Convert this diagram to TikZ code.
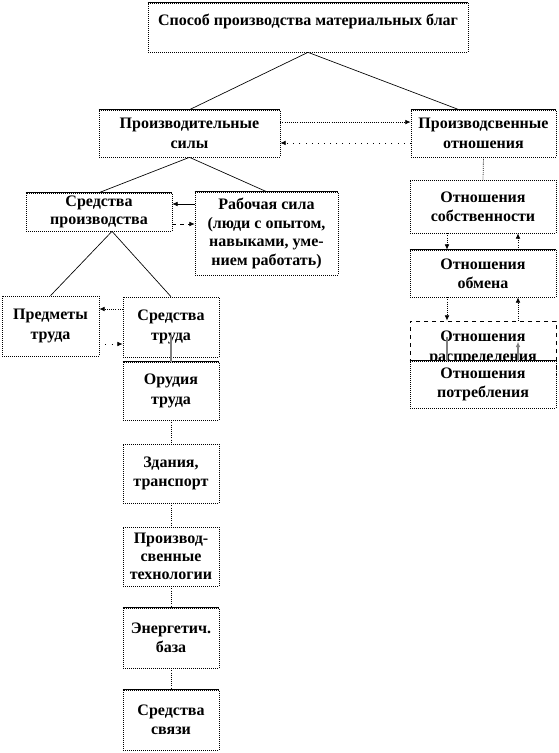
\documentclass[tikz,border=0pt]{standalone}
\usepackage{fontspec}
\setmainfont{Liberation Serif}
\usetikzlibrary{positioning, arrows.meta}

\begin{document}
\begin{tikzpicture}[
    >={Latex[length=4pt,width=3.5pt]},
    x=0.75pt, y=-0.75pt,
    box/.style={draw, densely dotted, line width=0.5pt, fill=white, align=center, inner sep=1pt,
        font=\bfseries\fontsize{12}{14.5}\selectfont},
    link/.style={line width=0.5pt},
    dotlink/.style={line width=0.6pt, densely dotted},
    backlink/.style={line width=0.6pt, loosely dotted},
    hidden/.style={gray, line width=1pt}
]

\useasboundingbox (0,0) rectangle (558,753);

% Top level
\node[box, minimum width=240pt, minimum height=36.75pt, text depth=11pt] (top) at (308,27.5) {Способ производства материальных благ};

% Second level
\node[box, minimum width=135.75pt, minimum height=35.25pt] (sily) at (189.5,133.5) {Производительные\\силы};
\node[box, minimum width=108.75pt, minimum height=35.25pt] (otn) at (483.5,133.5) {Производсвенные\\отношения};

% Productive forces
\node[box, minimum width=109.5pt, minimum height=28.5pt, font=\bfseries\fontsize{12}{13.5}\selectfont] (sredpr) at (99,212) {Средства\\производства};
\node[box, minimum width=107.25pt, minimum height=62.25pt, font=\bfseries\fontsize{12}{14}\selectfont] (rab) at (266.5,233.5) {Рабочая сила\\(люди с опытом,\\навыками, уме-\\нием работать)};
\node[box, minimum width=72.75pt, minimum height=45pt] (predm) at (50.5,326) {Предметы\\труда};
\node[box, minimum width=72pt, minimum height=45pt] (sredtr) at (171,327) {Средства\\труда};

% Means of labour column
\node[box, minimum width=72pt, minimum height=43.5pt] (orud) at (171,391) {Орудия\\труда};
\node[box, minimum width=72pt, minimum height=44.25pt] (zdan) at (171,473.5) {Здания,\\транспорт};
\node[box, minimum width=72pt, minimum height=44.25pt, font=\bfseries\fontsize{12}{13.5}\selectfont] (tech) at (171,556.5) {Производ-\\свенные\\технологии};
\node[box, minimum width=72pt, minimum height=45pt] (energ) at (171,638) {Энергетич.\\база};
\node[box, minimum width=72pt, minimum height=45pt] (svyaz) at (171,720) {Средства\\связи};

% Relations column
\node[box, minimum width=109.5pt, minimum height=39.75pt] (sobst) at (483,206.5) {Отношения\\собственности};
\node[box, minimum width=109.5pt, minimum height=35.25pt] (obmen) at (483,273.5) {Отношения\\обмена};
\node[box, dashed, minimum width=109.5pt, minimum height=40.5pt] (raspr) at (483,348) {Отношения\\распределения};
\node[box, minimum width=109.5pt, minimum height=35.25pt] (potreb) at (483,384.5) {Отношения\\потребления};

% solid upper edges
\foreach \n in {top, sily, otn, sredpr, rab, orud, energ, svyaz, obmen, potreb}
    \draw[line width=0.5pt] (\n.north west) -- (\n.north east);

% Tree lines
\draw[link] (top.south) -- (sily.north);
\draw[link] (top.south) -- ([xshift=-18.4pt]otn.north);
\draw[link] (sily.south) -- (sredpr.north);
\draw[link] (sily.south) -- (rab.north);
\draw[link] ([xshift=9.75pt]sredpr.south) -- (predm.north);
\draw[link] ([xshift=9.75pt]sredpr.south) -- (sredtr.north);
\draw[dotlink] (otn.south) -- (sobst.north);

% Horizontal arrows
\coordinate (so1) at ([yshift=8.6pt]sily.east);
\coordinate (so2) at ([yshift=-7.1pt]sily.east);
\draw[dotlink, ->] (so1) -- (so1 -| otn.west);
\draw[backlink, ->] (so2 -| otn.west) -- (so2);

\coordinate (sr1) at ([yshift=6pt]sredpr.east);
\coordinate (sr2) at ([yshift=-9pt]sredpr.east);
\draw[link, ->] (sr1 -| rab.west) -- (sr1);
\draw[line width=0.5pt, dashed, ->] (sr2) -- (sr2 -| rab.west);

\coordinate (pt1) at ([yshift=13.5pt]sredtr.west);
\coordinate (pt2) at ([yshift=-12.75pt]sredtr.west);
\draw[dotlink, ->] (pt1) -- (pt1 -| predm.east);
\draw[backlink, ->] (pt2 -| predm.east) -- (pt2);

% Column of means of labour
\draw[hidden] ([yshift=-6pt]sredtr.center) -- (orud.north);
\foreach \a/\b in {orud/zdan, zdan/tech, tech/energ, energ/svyaz}
    \draw[dotlink] (\a.south) -- (\b.north);

% Column of relations
\draw[dotlink, ->] ([xshift=-27pt]sobst.south) -- ([xshift=-27pt]obmen.north);
\draw[dotlink, ->] ([xshift=26.25pt]obmen.north) -- ([xshift=26.25pt]sobst.south);
\draw[dotlink, ->] ([xshift=-27pt]obmen.south) -- ([xshift=-27pt]raspr.north);
\draw[dotlink, ->] ([xshift=26.25pt]raspr.north) -- ([xshift=26.25pt]obmen.south);
\draw[hidden] ([xshift=-27pt, yshift=-12pt]raspr.north) -- ([xshift=-27pt]potreb.north);
\draw[hidden, ->] ([xshift=26.25pt]potreb.north) -- ([xshift=26.25pt, yshift=-15.75pt]raspr.north);

\end{tikzpicture}
\end{document}
